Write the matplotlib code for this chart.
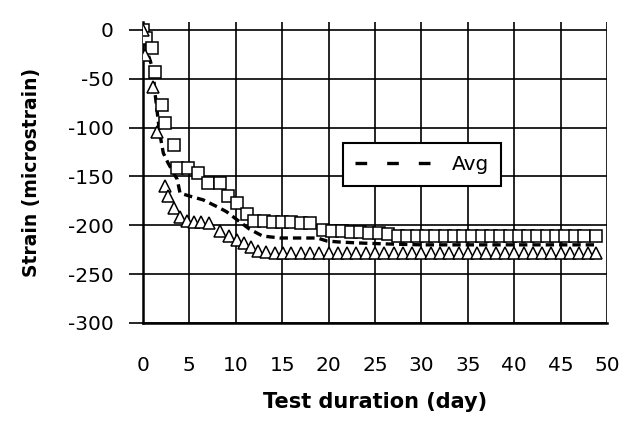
import matplotlib
matplotlib.use("Agg")
import matplotlib.pyplot as plt
from matplotlib.lines import Line2D

# gauge 1 (squares)
sq_day = [0, 0.3, 1.0, 1.3, 2.1, 2.4, 3.4, 3.7, 4.9, 5.9, 7.0, 8.3, 9.2, 10.1, 11.2, 12.0,
          13, 14, 15, 16, 17, 18, 19.4, 20.4, 21.4, 22.4, 23.4, 24.4, 25.4, 26.4,
          27.5, 28.5, 29.5, 30.5, 31.5, 32.5, 33.5, 34.5, 35.5, 36.5, 37.5, 38.5,
          39.5, 40.5, 41.5, 42.5, 43.5, 44.5, 45.5, 46.5, 47.5, 48.8]
sq_val = [0, -8, -18, -43, -77, -95, -118, -141, -141, -146, -157, -157, -170, -177, -188, -196,
          -196, -197, -197, -197, -198, -198, -205, -206, -206, -207, -207, -208, -208, -209,
          -211, -211, -211, -211, -211, -211, -211, -211, -211, -211, -211, -211,
          -211, -211, -211, -211, -211, -211, -211, -211, -211, -211]

# gauge 2 (triangles)
tr_day = [0, 0.2, 1.1, 1.5, 2.4, 2.7, 3.4, 4.0, 4.7, 5.5, 6.3, 7.1, 8.3, 9.3, 10.1, 10.9,
          11.6, 12.4, 13.3, 14.2, 15.1, 16, 17, 18, 19, 20, 21, 22, 23, 24, 25, 26, 27,
          28, 29, 30, 31, 32, 33, 34, 35, 36, 37, 38, 39, 40, 41, 42, 43, 44, 45, 46,
          47, 48, 48.8]
tr_val = [0, -26, -58, -104, -160, -170, -182, -191, -196, -197, -197, -198, -206, -211, -215, -218,
          -222, -226, -227, -228, -228, -228, -228, -228, -228, -228, -228, -228, -228, -228,
          -228, -228, -228, -228, -228, -228, -228, -228, -228, -228, -228, -228, -228, -228,
          -228, -228, -228, -228, -228, -228, -228, -228, -228, -228, -228]

# average
avg_day = [0, 0.4, 1.1, 1.3, 1.8, 2.2, 2.7, 3.7, 4.0, 5.0, 6.5, 8.0, 9.0, 10.1, 11.5, 12.9,
           14.8, 18.8, 19.8, 21, 23, 26, 30, 35, 40, 45, 48.9]
avg_val = [0, -20, -41, -64, -105, -126, -136, -153, -167, -170, -174, -181, -186, -194, -204, -211,
           -213, -213, -216, -217, -218, -219, -220, -220, -220, -220, -220]

xticks = [0, 5, 10, 15, 20, 25, 30, 35, 40, 45, 50]
yticks = [0, -50, -100, -150, -200, -250, -300]

plt.rcParams['font.family'] = ['DejaVu Sans']
plt.rcParams['axes.unicode_minus'] = False

fig = plt.figure(figsize=(6.35, 4.25), dpi=100)
ax = fig.add_axes([0.225, 0.24, 0.731, 0.708])

ax.plot(avg_day, avg_val, color='black', lw=2.4, ls=(0, (2.5, 1.5)), zorder=3)
ax.plot(sq_day, sq_val, ls='none', marker='s', ms=8.5, mfc='white', mec='black', mew=1.1, zorder=4)
ax.plot(tr_day, tr_val, ls='none', marker='^', ms=9, mfc='white', mec='black', mew=1.1, zorder=5)

ax.set_xlim(0, 50)
ax.set_ylim(-300, 8)
ax.set_xticks(xticks)
ax.set_yticks(yticks)
ax.grid(True, color='black', lw=1.2)
ax.set_axisbelow(True)
for s in ['top', 'right']:
    ax.spines[s].set_visible(False)
ax.spines['left'].set_linewidth(1.8)
ax.spines['bottom'].set_linewidth(1.8)
ax.tick_params(axis='y', length=10, width=1.2, direction='out', pad=11, labelsize=14.5)
ax.tick_params(axis='x', length=0, pad=24, labelsize=14.5)

ax.set_xlabel('Test duration (day)', fontsize=15, fontweight='bold', labelpad=12)
ax.set_ylabel('Strain (microstrain)', fontsize=13.5, fontweight='bold', labelpad=19)

handle = Line2D([], [], color='black', lw=2.4, ls=(0, (3.5, 6)))
leg = ax.legend([handle], ['Avg'], loc='center', bbox_to_anchor=(0.665, 0.612),
                bbox_transform=fig.transFigure, fontsize=14.5, handlelength=4.0,
                fancybox=False, framealpha=1, edgecolor='black', borderpad=0.6)
leg.get_frame().set_linewidth(1.5)

fig.savefig('out.png', dpi=100)
